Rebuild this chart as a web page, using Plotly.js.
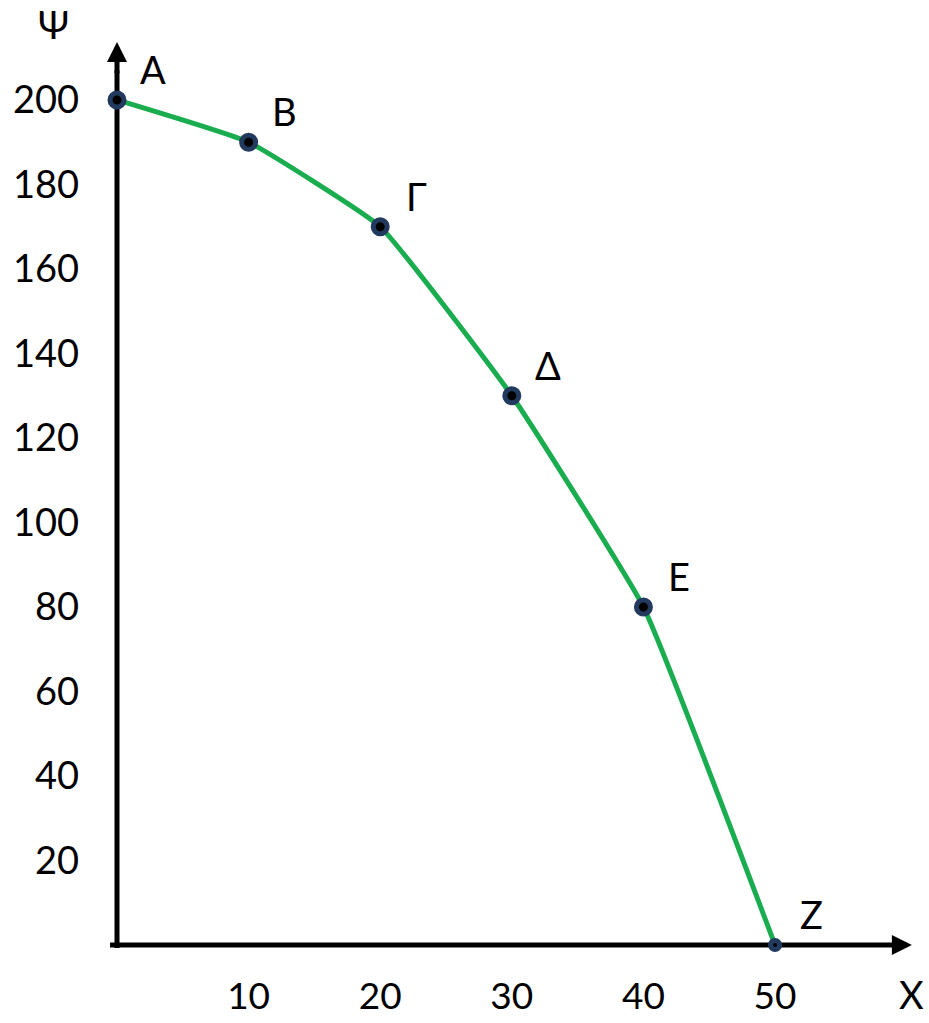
<!DOCTYPE html>
<html>
<head>
<meta charset="utf-8">
<script src="https://cdn.plot.ly/plotly-3.0.1.min.js"></script>
<style>html,body{margin:0;padding:0;background:#fff;}#chart{width:929px;height:1023px;}</style>
</head>
<body>
<div id="chart"></div>
<script>
// ---- data ----
const pointLabels = ["Α", "Β", "Γ", "Δ", "Ε", "Ζ"];
const goodX = [0, 10, 20, 30, 40, 50];
const goodY = [200, 190, 170, 130, 80, 0];
const xTickVals = [10, 20, 30, 40, 50];
const yTickVals = [20, 40, 60, 80, 100, 120, 140, 160, 180, 200];
const xAxisTitle = "Χ";
const yAxisTitle = "Ψ";

// ---- style ----
const FONT = "Lato, 'Noto Sans', 'DejaVu Sans', sans-serif";
const GREEN = "#1aad4f";
const NAVY = "#213a5e";
const markerSizes = goodX.map((_, i) => i === goodX.length - 1 ? 9 : 14);

const trace = {
  x: goodX, y: goodY, type: "scatter", mode: "lines+markers",
  line: {color: GREEN, width: 5, shape: "spline", smoothing: 0.35},
  marker: {color: "#000", size: markerSizes, opacity: 1, line: {color: NAVY, width: 5}},
  cliponaxis: false, hoverinfo: "x+y"
};

const annotations = goodX.map((x, i) => ({
  x: x, y: goodY[i], xref: "x", yref: "y", text: pointLabels[i],
  showarrow: false, xshift: 36, yshift: 31,
  font: {family: FONT, size: 38, color: "#000"}
}));

// arrow heads at the ends of the two axes
annotations.push({
  x: 0, y: 213.7, ax: 0, ay: 206, xref: "x", yref: "y", axref: "x", ayref: "y",
  text: "", showarrow: true, arrowhead: 2, arrowsize: 0.8, arrowwidth: 5,
  arrowcolor: "#000", standoff: 0, startstandoff: 0
});
annotations.push({
  x: 60.4, y: 0, ax: 59, ay: 0, xref: "x", yref: "y", axref: "x", ayref: "y",
  text: "", showarrow: true, arrowhead: 2, arrowsize: 0.8, arrowwidth: 5,
  arrowcolor: "#000", standoff: 0, startstandoff: 0
});
// axis titles
annotations.push({
  x: -0.057, y: 0.98, xref: "paper", yref: "paper", text: yAxisTitle,
  showarrow: false, xanchor: "center", yanchor: "middle",
  font: {family: FONT, size: 38, color: "#000"}
});
annotations.push({
  x: 0.985, y: -0.043, xref: "paper", yref: "paper", text: xAxisTitle,
  showarrow: false, xanchor: "center", yanchor: "middle",
  font: {family: FONT, size: 38, color: "#000"}
});

const layout = {
  width: 929, height: 1023,
  margin: {l: 100, r: 5, t: 5, b: 70},
  paper_bgcolor: "#fff", plot_bgcolor: "#fff",
  showlegend: false,
  xaxis: {
    range: [-1.292, 61.32], showgrid: false, zeroline: false, showline: false,
    tickmode: "array", tickvals: xTickVals, ticks: "", ticklabelstandoff: 18,
    tickfont: {family: FONT, size: 37, color: "#000"}, fixedrange: true
  },
  yaxis: {
    range: [-1.893, 222.48], showgrid: false, zeroline: false, showline: false,
    tickmode: "array", tickvals: yTickVals, ticks: "", ticklabelstandoff: 20,
    tickfont: {family: FONT, size: 38, color: "#000"}, fixedrange: true
  },
  shapes: [
    {type: "line", xref: "x", yref: "y", x0: 0, y0: -0.7, x1: 0, y1: 207,
     line: {color: "#000", width: 5}, layer: "below"},
    {type: "line", xref: "x", yref: "y", x0: -0.53, y0: 0, x1: 59.5, y1: 0,
     line: {color: "#000", width: 5}, layer: "below"}
  ],
  annotations: annotations
};

Plotly.newPlot("chart", [trace], layout, {displayModeBar: false, staticPlot: true});
</script>
</body>
</html>
